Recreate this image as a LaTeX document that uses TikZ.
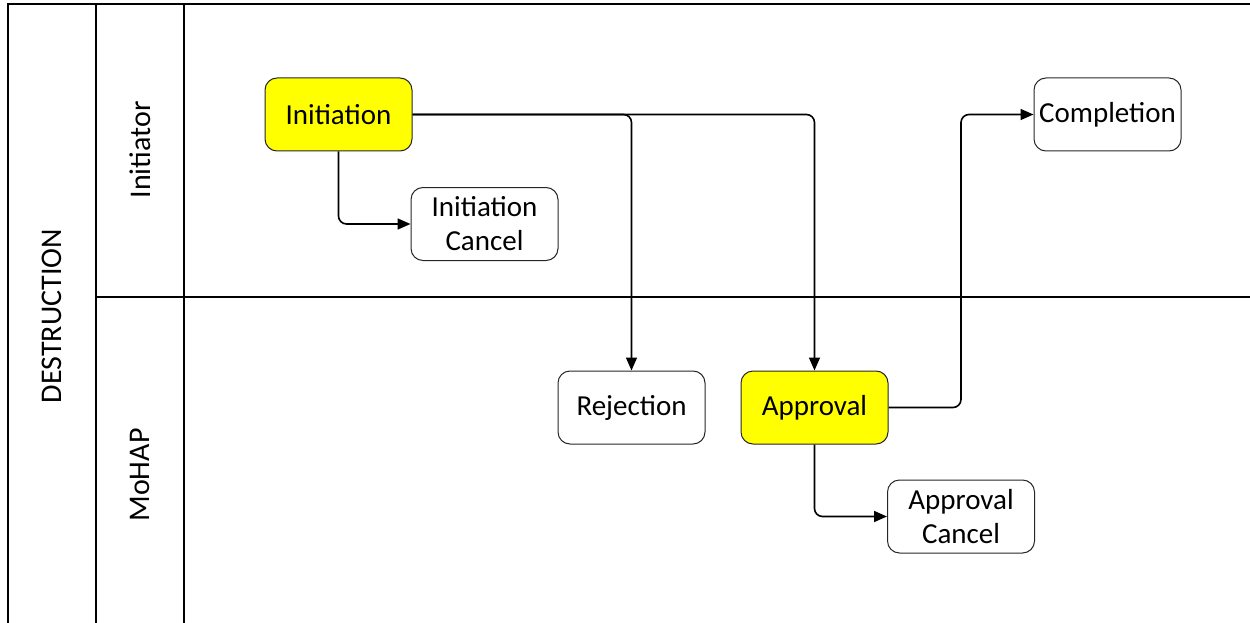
\documentclass[tikz,border=0pt]{standalone}
\usepackage{fontspec}
\setmainfont{Carlito}
\usetikzlibrary{arrows.meta}
\definecolor{hl}{RGB}{255,255,0}
\begin{document}
\begin{tikzpicture}[x=1pt,y=-1pt,
  box/.style={draw=black!85, line width=1pt, rounded corners=12pt, minimum width=147pt, minimum height=73pt, align=center, font=\fontsize{29}{34}\selectfont, inner sep=0pt},
  hot/.style={box, fill=hl},
  flow/.style={line width=1.6pt, rounded corners=8pt, -{Triangle[length=13pt,width=11pt]}},
  lane/.style={line width=2pt},
  lab/.style={rotate=90, font=\fontsize{30}{34}\selectfont, inner sep=0pt}]
\useasboundingbox (0,0) rectangle (1250,623);
% lanes
\draw[lane] (8,623) -- (8,4) -- (1250,4);
\draw[lane] (96,4) -- (96,623);
\draw[lane] (184,4) -- (184,623);
\draw[lane] (96,297) -- (1250,297);
\node[lab] (pool) at (52,316) {DESTRUCTION};
\node[lab] (l1) at (140,150) {Initiator};
\node[lab] (l2) at (140,475) {MoHAP};
% nodes
\node[hot] (init) at (338.5,114.5) {Initiation};
\node[box] (icancel) at (484.5,224) {Initiation\\Cancel};
\node[box] (compl) at (1107.5,114.5) {Completion};
\node[box] (rej) at (631.5,407.5) {Rejection};
\node[hot] (appr) at (814.5,407.5) {Approval};
\node[box] (acancel) at (961,516.5) {Approval\\Cancel};
% connectors
\draw[flow] (init.east) -| (rej.north);
\draw[flow] (init.east) -| (appr.north);
\draw[flow] (init.south) |- (icancel.west);
\draw[flow] (appr.east) -| (acancel.north |- compl.west) -- (compl.west);
\draw[flow] (appr.south) |- (acancel.west);
\end{tikzpicture}
\end{document}
